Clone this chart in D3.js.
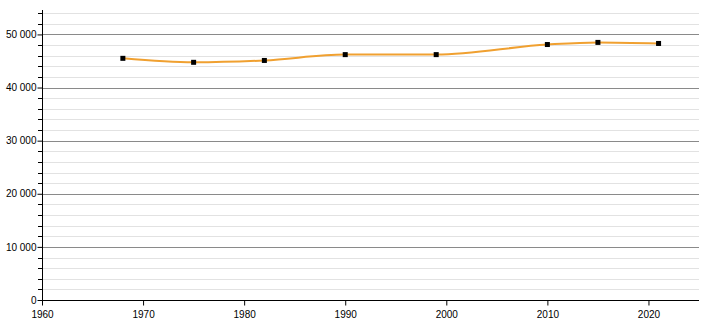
<!DOCTYPE html>
<html>
<head>
<meta charset="utf-8">
<script src="https://cdn.jsdelivr.net/npm/d3@7"></script>
<style>
body { margin: 0; background: #fff; }
svg { display: block; font-family: "Liberation Sans", Arial, sans-serif; }
</style>
</head>
<body>
<svg width="710" height="320"></svg>
<script>
var years = [1968, 1975, 1982, 1990, 1999, 2010, 2015, 2021];
var population = [45500, 44750, 45100, 46200, 46200, 48100, 48500, 48300];
var xTicks = [1960, 1970, 1980, 1990, 2000, 2010, 2020];
var yTicks = [0, 10000, 20000, 30000, 40000, 50000];

var svg = d3.select('svg');
var x = d3.scaleLinear().domain([1960, 2025]).range([42, 699]);
var y = d3.scaleLinear().domain([0, 54600]).range([300, 10]);

var minor = d3.range(2000, 54001, 2000).filter(function (v) { return v % 10000 !== 0; });

svg.append('g').selectAll('line')
    .data(minor)
    .enter()
    .append('line')
    .attr('x1', 42).attr('x2', 699)
    .attr('y1', function (d) { return Math.round(y(d)) + 0.5; })
    .attr('y2', function (d) { return Math.round(y(d)) + 0.5; })
    .attr('stroke', '#e2e2e2');

svg.append('g').selectAll('line')
    .data(yTicks.slice(1))
    .enter()
    .append('line')
    .attr('x1', 42).attr('x2', 699)
    .attr('y1', function (d) { return Math.round(y(d)) + 0.5; })
    .attr('y2', function (d) { return Math.round(y(d)) + 0.5; })
    .attr('stroke', '#8a8a8a');

// minor ticks on y axis
svg.append('g').selectAll('line')
    .data(minor)
    .enter()
    .append('line')
    .attr('x1', 38).attr('x2', 42)
    .attr('y1', function (d) { return Math.round(y(d)) + 0.5; })
    .attr('y2', function (d) { return Math.round(y(d)) + 0.5; })
    .attr('stroke', '#000');

var yAxis = d3.axisLeft(y)
    .tickValues(yTicks)
    .tickSize(5)
    .tickFormat(function (d) { return d3.format(',')(d).replace(/,/g, ' '); });

svg.append('g')
    .attr('transform', 'translate(42.5,0)')
    .call(yAxis)
    .call(function (g) {
        g.select('.domain').attr('d', 'M0,' + y(54600) + 'V' + (y(0) + 0.5));
        g.selectAll('text').attr('font-size', 10).attr('fill', '#000').attr('x', -6);
    });

var xAxis = d3.axisBottom(x)
    .tickValues(xTicks)
    .tickSize(5)
    .tickFormat(d3.format('d'));

svg.append('g')
    .attr('transform', 'translate(0,300.5)')
    .call(xAxis)
    .call(function (g) {
        g.select('.domain').attr('d', 'M42,0H699');
        g.selectAll('text').attr('font-size', 10).attr('fill', '#000').attr('dy', '0.9em');
    });

var pts = years.map(function (d, i) { return [d, population[i]]; });

var line = d3.line()
    .x(function (d) { return x(d[0]); })
    .y(function (d) { return y(d[1]); })
    .curve(d3.curveMonotoneX);

svg.append('path')
    .datum(pts)
    .attr('d', line)
    .attr('fill', 'none')
    .attr('stroke', '#f0a030')
    .attr('stroke-width', 2);

svg.append('g').selectAll('rect')
    .data(pts)
    .enter()
    .append('rect')
    .attr('x', function (d) { return x(d[0]) - 2.5; })
    .attr('y', function (d) { return y(d[1]) - 2.5; })
    .attr('width', 5)
    .attr('height', 5)
    .attr('fill', '#000');
</script>
</body>
</html>
